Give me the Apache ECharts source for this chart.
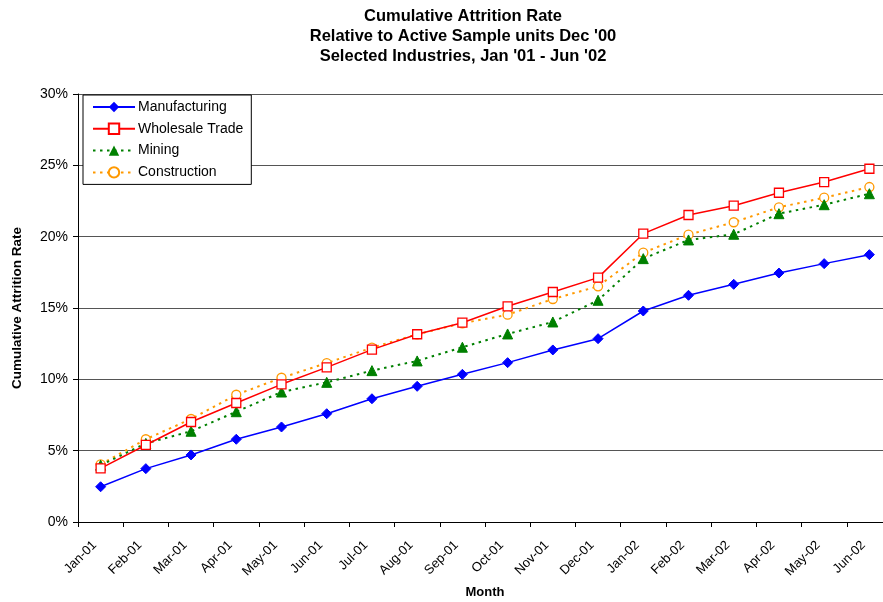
<!DOCTYPE html>
<html>
<head>
<meta charset="utf-8">
<script src="https://cdn.jsdelivr.net/npm/echarts@6/dist/echarts.min.js"></script>
<style>
html,body{margin:0;padding:0;background:#fff;}
#c{width:883px;height:602px;}
</style>
</head>
<body>
<div id="c"></div>
<script>
var months = ['Jan-01','Feb-01','Mar-01','Apr-01','May-01','Jun-01','Jul-01','Aug-01','Sep-01','Oct-01','Nov-01','Dec-01','Jan-02','Feb-02','Mar-02','Apr-02','May-02','Jun-02'];
var manufacturing = [2.47,3.74,4.70,5.80,6.66,7.59,8.64,9.51,10.35,11.17,12.06,12.85,14.79,15.89,16.66,17.45,18.11,18.74];
var wholesale = [3.76,5.40,7.01,8.34,9.65,10.84,12.08,13.16,13.97,15.12,16.12,17.13,20.21,21.52,22.17,23.08,23.83,24.76];
var mining = [3.98,5.51,6.36,7.73,9.11,9.79,10.61,11.29,12.25,13.18,14.02,15.54,18.46,19.77,20.17,21.61,22.24,23.01];
var construction = [4.04,5.80,7.22,8.92,10.11,11.14,12.22,13.16,13.93,14.53,15.63,16.52,18.88,20.14,21.01,22.06,22.73,23.48];
var yTicks = [0,5,10,15,20,25,30];

var chart = echarts.init(document.getElementById('c'), null, {renderer:'canvas'});
var F = 'Liberation Sans, Arial, sans-serif';
chart.setOption({
  animation:false,
  backgroundColor:'#fff',
  title:{
    text:'Cumulative Attrition Rate\nRelative to Active Sample units Dec \'00\nSelected Industries, Jan \'01 - Jun \'02',
    left:458, top:1, textAlign:'center',
    textStyle:{fontFamily:F,fontSize:16.5,fontWeight:'bold',color:'#000',lineHeight:20}
  },
  legend:{
    orient:'vertical', left:83, top:95,
    backgroundColor:'#fff', borderColor:'#000', borderWidth:1,
    padding:[4,8,4,9], itemGap:5.8, itemWidth:42, itemHeight:13,
    textStyle:{fontFamily:F,fontSize:14,color:'#000',padding:[0,0,0,-2],lineHeight:16},
    data:['Manufacturing','Wholesale Trade','Mining','Construction']
  },
  grid:{left:78, right:-9, top:94, bottom:80, containLabel:false, outerBoundsMode:'none'},
  xAxis:{
    type:'category', data:months, boundaryGap:true,
    name:'Month', nameLocation:'middle', nameGap:64,
    nameTextStyle:{fontFamily:F,fontSize:13,fontWeight:'bold',color:'#000'},
    axisLine:{lineStyle:{color:'#000',width:1}},
    axisTick:{show:true,alignWithLabel:false,length:5,lineStyle:{color:'#000'}},
    axisLabel:{rotate:45,fontFamily:F,fontSize:13,color:'#000',margin:15,padding:[0,8.5,0,0],interval:0},
    splitLine:{show:false}
  },
  yAxis:{
    type:'value', min:0, max:30, interval:5,
    name:'Cumulative Attrition Rate', nameLocation:'middle', nameGap:54,
    nameTextStyle:{fontFamily:F,fontSize:13.5,fontWeight:'bold',color:'#000'},
    axisLine:{show:true,lineStyle:{color:'#000',width:1}},
    axisTick:{show:true,length:5,lineStyle:{color:'#000'}},
    axisLabel:{fontFamily:F,fontSize:14,color:'#000',margin:10,formatter:function(v){return yTicks.indexOf(v)>=0? v+'%':'';}},
    splitLine:{show:true,lineStyle:{color:'#555',width:1}}
  },
  series:[
    {name:'Manufacturing',type:'line',data:manufacturing,symbol:'diamond',symbolSize:10,
     lineStyle:{color:'#0000ff',width:1.5},itemStyle:{color:'#0000ff',borderColor:'#0000ff'},z:5},
    {name:'Wholesale Trade',type:'line',data:wholesale,symbol:'rect',symbolSize:9,
     lineStyle:{color:'#ff0000',width:1.5},itemStyle:{color:'#fff',borderColor:'#ff0000',borderWidth:1.3},z:4},
    {name:'Mining',type:'line',data:mining,symbol:'triangle',symbolSize:10,
     lineStyle:{color:'#008000',width:2,type:[2.5,4.5]},itemStyle:{color:'#008000',borderColor:'#008000'},z:3},
    {name:'Construction',type:'line',data:construction,symbol:'circle',symbolSize:9,
     lineStyle:{color:'#ff9900',width:2,type:[2.5,4.5]},itemStyle:{color:'#fff',borderColor:'#ff9900',borderWidth:1.3},z:2}
  ]
});
</script>
</body>
</html>
